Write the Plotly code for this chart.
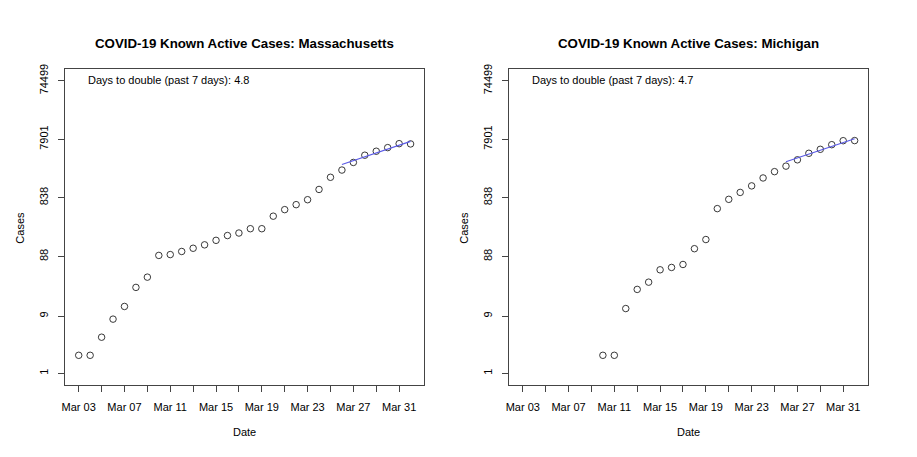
import plotly.graph_objects as go

# ---------------- data ----------------
ma_dates = ["2020-03-03", "2020-03-04", "2020-03-05", "2020-03-06", "2020-03-07",
            "2020-03-08", "2020-03-09", "2020-03-10", "2020-03-11", "2020-03-12",
            "2020-03-13", "2020-03-14", "2020-03-15", "2020-03-16", "2020-03-17",
            "2020-03-18", "2020-03-19", "2020-03-20", "2020-03-21", "2020-03-22",
            "2020-03-23", "2020-03-24", "2020-03-25", "2020-03-26", "2020-03-27",
            "2020-03-28", "2020-03-29", "2020-03-30", "2020-03-31", "2020-04-01"]
ma_cases = [2, 2, 4, 8, 13, 27, 40, 92, 95, 107,
            121, 138, 164, 197, 217, 256, 256, 414, 532, 644,
            778, 1153, 1838, 2425, 3245, 4283, 4990, 5730, 6667, 6600]

mi_dates = ["2020-03-10", "2020-03-11", "2020-03-12", "2020-03-13", "2020-03-14",
            "2020-03-15", "2020-03-16", "2020-03-17", "2020-03-18", "2020-03-19",
            "2020-03-20", "2020-03-21", "2020-03-22", "2020-03-23", "2020-03-24",
            "2020-03-25", "2020-03-26", "2020-03-27", "2020-03-28", "2020-03-29",
            "2020-03-30", "2020-03-31", "2020-04-01"]
mi_cases = [2, 2, 12, 25, 33, 53, 58, 65, 119, 169,
            553, 789, 1029, 1322, 1791, 2281, 2818, 3592, 4611, 5370,
            6412, 7468, 7500]

fit_dates = ["2020-03-26", "2020-04-01"]
ma_fit = [3006, 7280]
mi_fit = [3334, 8054]

ma_double = "4.8"
mi_double = "4.7"

x_tick_dates = ["2020-03-03", "2020-03-05", "2020-03-07", "2020-03-09", "2020-03-11",
                "2020-03-13", "2020-03-15", "2020-03-17", "2020-03-19", "2020-03-21",
                "2020-03-23", "2020-03-25", "2020-03-27", "2020-03-29", "2020-03-31"]
x_tick_labels = ["Mar 03", "", "Mar 07", "", "Mar 11", "", "Mar 15", "", "Mar 19", "",
                 "Mar 23", "", "Mar 27", "", "Mar 31"]
y_tick_vals = [1, 9, 88, 838, 7901, 74499]
y_tick_labels = ["1", "9", "88", "838", "7901", "74499"]

# ---------------- layout geometry ----------------
W, H = 917, 457
FONT = "Liberation Sans, Arial, Helvetica, sans-serif"
boxes = [(61.7, 421.7), (507.7, 867.7)]
top, bottom = 64.7, 384.3
x_range = ["2020-03-01 20:09", "2020-04-02 03:51"]
y_range = [-0.195, 5.067]

fig = go.Figure()

panels = [
    ("Massachusetts", ma_dates, ma_cases, ma_fit, ma_double),
    ("Michigan", mi_dates, mi_cases, mi_fit, mi_double),
]

for i, (name, d, c, fit, dbl) in enumerate(panels):
    xa = "x" if i == 0 else "x2"
    ya = "y" if i == 0 else "y2"
    fig.add_trace(go.Scatter(
        x=d, y=c, mode="markers", xaxis=xa, yaxis=ya, showlegend=False,
        marker=dict(symbol="circle-open", size=6.5, color="#222",
                    line=dict(width=0.9, color="#222")),
    ))
    fig.add_trace(go.Scatter(
        x=fit_dates, y=fit, mode="lines", xaxis=xa, yaxis=ya, showlegend=False,
        line=dict(color="#5a5ae6", width=1.2),
    ))

    x0, x1 = boxes[i]
    axis_common = dict(
        showgrid=False, zeroline=False, showline=True, mirror=True,
        linecolor="#444", linewidth=1, ticks="outside", ticklen=6,
        tickcolor="#444", tickwidth=1,
        tickfont=dict(family=FONT, size=11, color="black"),
    )
    xkey = "xaxis" if i == 0 else "xaxis2"
    ykey = "yaxis" if i == 0 else "yaxis2"
    fig.layout[xkey] = dict(
        axis_common, type="date", range=x_range,
        domain=[x0 / W, x1 / W], anchor=ya,
        tickmode="array", tickvals=x_tick_dates, ticktext=x_tick_labels,
        ticklabelstandoff=6,
    )
    fig.layout[ykey] = dict(
        axis_common, type="log", range=y_range,
        domain=[1 - bottom / H, 1 - top / H], anchor=xa,
        tickmode="array", tickvals=y_tick_vals, ticktext=y_tick_labels,
        tickangle=-90, ticklabelstandoff=6,
    )

    cx = (x0 + x1) / 2
    # title
    fig.add_annotation(
        x=cx / W, y=1 - 39 / H, xref="paper", yref="paper",
        text="<b>COVID-19 Known Active Cases: " + name + "</b>",
        showarrow=False, xanchor="center", yanchor="middle",
        font=dict(family=FONT, size=13.3, color="black"),
    )
    # x-axis title
    fig.add_annotation(
        x=cx / W, y=1 - 432 / H, xref="paper", yref="paper",
        text="Date", showarrow=False, xanchor="center", yanchor="middle",
        font=dict(family=FONT, size=11, color="black"),
    )
    # y-axis title
    fig.add_annotation(
        x=(x0 - 46.5) / W, y=1 - 225 / H, xref="paper", yref="paper",
        text="Cases", showarrow=False, xanchor="center", yanchor="middle",
        textangle=-90, font=dict(family=FONT, size=11, color="black"),
    )
    # doubling-time note
    fig.add_annotation(
        x=(x0 + 20.5) / W, y=1 - 76 / H, xref="paper", yref="paper",
        text="Days to double (past 7 days): " + dbl, showarrow=False,
        xanchor="left", yanchor="middle",
        font=dict(family=FONT, size=11, color="black"),
    )

fig.update_layout(
    width=W, height=H,
    margin=dict(l=0, r=0, t=0, b=0),
    paper_bgcolor="white", plot_bgcolor="white",
    showlegend=False,
)

fig.write_html("out.html", config={"displayModeBar": False},
               post_script="document.body.style.margin='0';")
